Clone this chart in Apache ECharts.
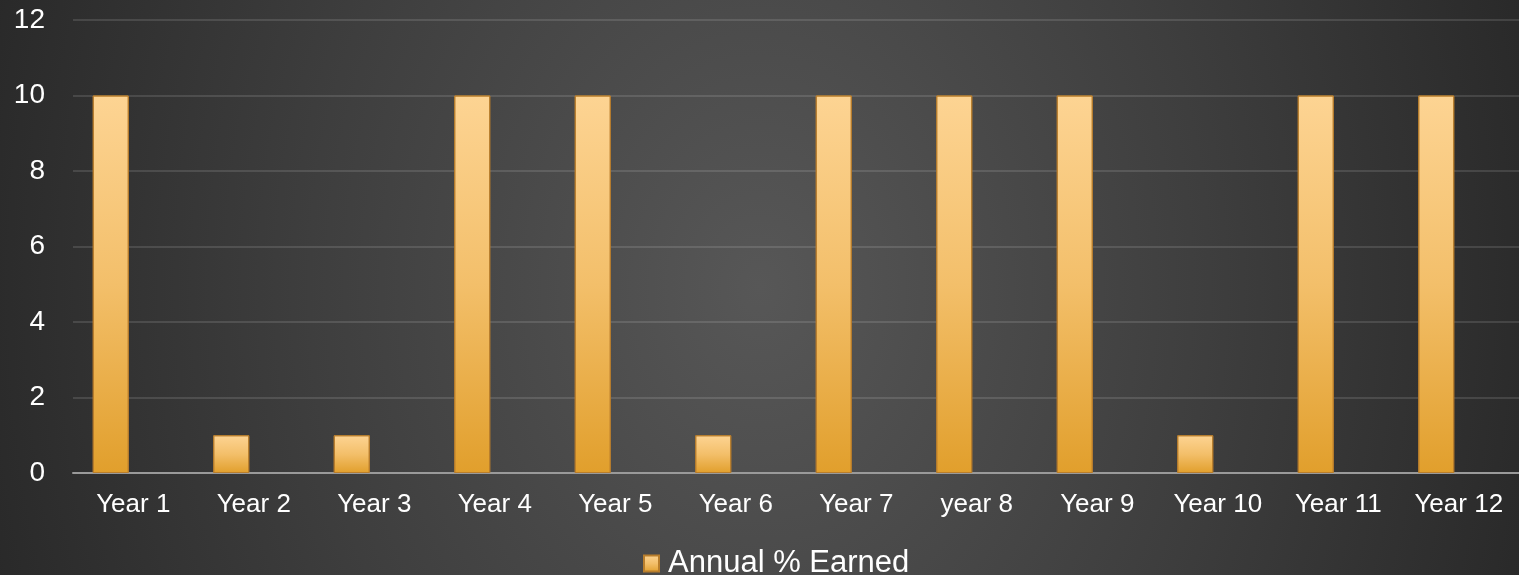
<!DOCTYPE html>
<html>
<head>
<meta charset="utf-8">
<script src="https://cdn.jsdelivr.net/npm/echarts@6/dist/echarts.min.js"></script>
<style>
html,body{margin:0;padding:0;}
#chart{width:1519px;height:575px;background:radial-gradient(ellipse 900px 1150px at 50% 50%, #575757 0%, #3e3e3e 50%, #232323 100%);}
</style>
</head>
<body>
<div id="chart"></div>
<script>
const categories = ['Year 1','Year 2','Year 3','Year 4','Year 5','Year 6','Year 7','year 8','Year 9','Year 10','Year 11','Year 12'];
const annualEarned = [10,1,1,10,10,1,10,10,10,1,10,10];
const emptySeries = [null,null,null,null,null,null,null,null,null,null,null,null];
const yTicks = {min:0, max:12, interval:2};
const seriesName = 'Annual % Earned';

const barGrad = new echarts.graphic.LinearGradient(0,0,0,1,[
  {offset:0, color:'#fdd493'},
  {offset:0.5, color:'#f3bf6a'},
  {offset:1, color:'#e19f2c'}
]);

const chart = echarts.init(document.getElementById('chart'), null, {renderer:'canvas'});
chart.setOption({
  backgroundColor:'transparent',
  textStyle:{fontFamily:'Liberation Sans, Arial, sans-serif'},
  grid:{left:73, right:0, top:20, bottom:102, containLabel:false},
  legend:{
    data:[seriesName],
    bottom:-4,
    left:643,
    padding:0,
    icon:'rect',
    itemWidth:15,
    itemHeight:16,
    itemGap:4,
    textStyle:{color:'#ffffff', fontSize:31, fontFamily:'Liberation Sans, Arial, sans-serif', padding:[0,0,0,4]}
  },
  xAxis:{
    type:'category',
    data:categories,
    axisLine:{show:true, lineStyle:{color:'#9a9a9a', width:2}},
    axisTick:{show:false},
    axisLabel:{color:'#ffffff', fontSize:26, margin:19, interval:0},
    splitLine:{show:false}
  },
  yAxis:{
    type:'value',
    min:yTicks.min, max:yTicks.max, interval:yTicks.interval,
    axisLine:{show:false},
    axisTick:{show:false},
    axisLabel:{color:'#ffffff', fontSize:28, margin:28},
    splitLine:{show:true, lineStyle:{color:'rgba(255,255,255,0.12)', width:2}}
  },
  series:[
    {
      name:seriesName,
      type:'bar',
      data:annualEarned,
      barWidth:36,
      barGap:'25%',
      itemStyle:{color:barGrad, borderColor:'#b97e2c', borderWidth:1}
    },
    {
      name:'_empty',
      type:'bar',
      data:emptySeries,
      barWidth:36,
      itemStyle:{color:'transparent'}
    }
  ]
});
</script>
</body>
</html>
